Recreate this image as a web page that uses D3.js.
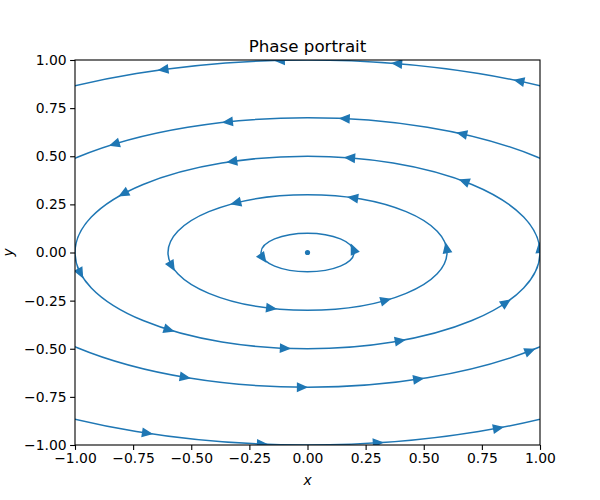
<!DOCTYPE html>
<html><head><meta charset="utf-8">
<script src="https://cdn.jsdelivr.net/npm/d3@7"></script>
<style>body{margin:0;background:#fff}</style>
</head><body>
<script>
// ---- data ----
const title = "Phase portrait";
const xTicks = [-1, -0.75, -0.5, -0.25, 0, 0.25, 0.5, 0.75, 1];
const yTicks = [-1, -0.75, -0.5, -0.25, 0, 0.25, 0.5, 0.75, 1];
// orbit levels: ellipses x^2/4 + y^2 = r^2 (semi-axes 2r, r)
const radii = [0.1, 0.3, 0.5, 0.7, 1.0];
// arrow positions, [r, x, y]
const arrows = [
  [1.0, -0.621, 0.953], [1.0, -0.118, 0.99], [1.0, 0.385, 0.98], [1.0, 0.88, 0.86],
  [1.0, -0.690, -0.938], [1.0, -0.196, -0.995], [1.0, 0.303, -0.990], [1.0, 0.819, -0.912],
  [0.7, -0.837, 0.569], [0.7, -0.342, 0.678], [0.7, 0.161, 0.699], [0.7, 0.665, 0.616],
  [0.7, -0.527, -0.647], [0.7, -0.024, -0.699], [0.7, 0.475, -0.657], [0.7, 0.957, -0.512],
  [0.5, -0.798, 0.309], [0.5, -0.325, 0.475], [0.5, 0.183, 0.491], [0.5, 0.669, 0.366],
  [0.5, -0.591, -0.397], [0.5, -0.097, -0.496], [0.5, 0.398, -0.460], [0.5, 0.841, -0.257],
  [0.5, -0.978, -0.107], [0.5, 0.991, 0.023],
  [0.3, -0.312, 0.262], [0.3, 0.196, 0.283], [0.3, -0.153, -0.283], [0.3, 0.333, -0.247],
  [0.3, -0.591, -0.070], [0.3, 0.600, 0.023],
  [0.1, -0.196, -0.029], [0.1, 0.196, 0.018]
];
const fixedPoint = [0, 0];

// ---- layout ----
const W = 600, H = 500;
const L = 75, R = 540, T = 60, B = 445;
const color = "#1f77b4";
const font = "DejaVu Sans, sans-serif";
const fs = 13.9;

const svg = d3.select("body").append("svg").attr("width", W).attr("height", H)
  .style("font-family", font);

const x = d3.scaleLinear().domain([-1, 1]).range([L, R]);
const y = d3.scaleLinear().domain([-1, 1]).range([B, T]);

svg.append("clipPath").attr("id", "clip").append("rect")
  .attr("x", L).attr("y", T).attr("width", R - L).attr("height", B - T);

const g = svg.append("g").attr("clip-path", "url(#clip)");

g.selectAll("ellipse.orbit").data(radii).enter().append("ellipse")
  .attr("class", "orbit")
  .attr("cx", x(0)).attr("cy", y(0))
  .attr("rx", r => x(2 * r) - x(0))
  .attr("ry", r => y(0) - y(r))
  .attr("fill", "none").attr("stroke", color).attr("stroke-width", 1.5);

// arrows: project onto orbit, direction of flow (counter-clockwise)
const headLen = 8.6, headHalf = 3.8;
g.selectAll("path.arrow").data(arrows).enter().append("path")
  .attr("class", "arrow")
  .attr("d", d => {
    const [r, ax, ay] = d;
    const t = Math.atan2(ay / r, ax / (2 * r));
    const px = x(2 * r * Math.cos(t)), py = y(r * Math.sin(t));
    let tx = (x(-2 * r * Math.sin(t)) - x(0));
    let ty = (y(r * Math.cos(t)) - y(0));
    const n = Math.hypot(tx, ty); tx /= n; ty /= n;
    const nx = -ty, ny = tx;
    const tipX = px + tx * headLen / 2, tipY = py + ty * headLen / 2;
    const bX = px - tx * headLen / 2, bY = py - ty * headLen / 2;
    return `M${tipX},${tipY}L${bX + nx * headHalf},${bY + ny * headHalf}L${bX - nx * headHalf},${bY - ny * headHalf}Z`;
  })
  .attr("fill", color).attr("stroke", color).attr("stroke-width", 1.5)
  .attr("stroke-linejoin", "miter");

g.append("circle").attr("cx", x(fixedPoint[0])).attr("cy", y(fixedPoint[1]))
  .attr("r", 2.6).attr("fill", color);

// axes
const fmt = d3.format(".2f");
const xAxis = svg.append("g").attr("transform", `translate(0,${B})`)
  .call(d3.axisBottom(x).tickValues(xTicks).tickFormat(fmt).tickSizeOuter(0).tickSize(4.9).tickPadding(3.5));
const yAxis = svg.append("g").attr("transform", `translate(${L},0)`)
  .call(d3.axisLeft(y).tickValues(yTicks).tickFormat(fmt).tickSizeOuter(0).tickSize(4.9).tickPadding(3.5));
[xAxis, yAxis].forEach(a => {
  a.select(".domain").remove();
  a.selectAll("line").attr("stroke", "#000").attr("stroke-width", 1.1);
  a.selectAll("text").attr("font-size", fs).attr("font-family", font).attr("fill", "#000");
});

// spines
svg.append("rect").attr("x", L).attr("y", T).attr("width", R - L).attr("height", B - T)
  .attr("fill", "none").attr("stroke", "#000").attr("stroke-width", 1.1);

svg.append("text").attr("x", (L + R) / 2).attr("y", 52).attr("text-anchor", "middle")
  .attr("font-size", 16.7).text(title);
svg.append("text").attr("x", (L + R) / 2).attr("y", 485).attr("text-anchor", "middle")
  .attr("font-size", fs).attr("font-style", "italic").text("x");
svg.append("text").attr("transform", `translate(13,${(T + B) / 2}) rotate(-90)`)
  .attr("text-anchor", "middle")
  .attr("font-size", fs).attr("font-style", "italic").text("y");
</script>
</body></html>
